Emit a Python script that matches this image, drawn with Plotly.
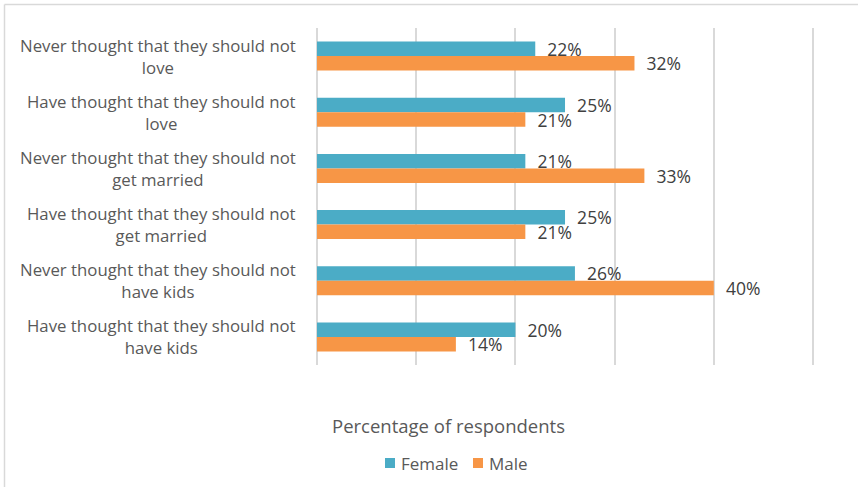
import plotly.graph_objects as go

categories = [
    "Never thought that they should not<br>love",
    "Have thought that they should not<br>love",
    "Never thought that they should not<br>get married",
    "Have thought that they should not<br>get married",
    "Never thought that they should not<br>have kids",
    "Have thought that they should not<br>have kids",
]
female = [22, 25, 21, 25, 26, 20]
male = [32, 21, 33, 21, 40, 14]
series_names = ["Female", "Male"]

FEMALE_COLOR = "#4BACC6"
MALE_COLOR = "#F79646"
FONT = "Open Sans"
TEXT_GREY = "#595959"

# plot-area geometry in pixels (used to place paper-anchored items)
W, H = 858, 487
L, R, T, B = 317, 40, 28, 122
PW, PH = W - L - R, H - T - B


def px_x(px):
    return (px - L) / PW


def px_y(py):
    return (H - B - py) / PH


fig = go.Figure()
for name, vals, color in zip(series_names, [female, male], [FEMALE_COLOR, MALE_COLOR]):
    fig.add_trace(go.Bar(
        y=categories, x=vals, name=name, orientation="h",
        marker=dict(color=color, line=dict(width=0)),
        text=[f"\u00a0\u00a0{v}%" for v in vals],
        textposition="outside", constraintext="none", cliponaxis=False,
        textfont=dict(family=FONT, size=17.5, color="#404040"),
        showlegend=False,
    ))

# category labels, centred line by line
for c in categories:
    fig.add_annotation(
        x=px_x(298), xref="paper", y=c, yref="y",
        text=c, showarrow=False, xanchor="right", yanchor="middle", align="center",
        font=dict(family=FONT, size=16.8, color=TEXT_GREY),
    )

# axis title
fig.add_annotation(
    x=px_x(448), xref="paper", y=px_y(425), yref="paper",
    text="Percentage of respondents", showarrow=False,
    xanchor="center", yanchor="middle",
    font=dict(family=FONT, size=18.5, color=TEXT_GREY),
)

# legend: coloured square + label for each series
legend_y = 463
for name, color, sq_left in zip(series_names, [FEMALE_COLOR, MALE_COLOR], [385, 473]):
    fig.add_shape(type="rect", xref="paper", yref="paper",
                  x0=px_x(sq_left), x1=px_x(sq_left + 10),
                  y0=px_y(legend_y + 5), y1=px_y(legend_y - 5),
                  fillcolor=color, line=dict(width=0))
    fig.add_annotation(
        x=px_x(sq_left + 14), xref="paper", y=px_y(legend_y), yref="paper",
        text=name, showarrow=False, xanchor="left", yanchor="middle",
        font=dict(family=FONT, size=17, color=TEXT_GREY),
    )

# chart-area border (top and left edges)
bx, by = px_x(4.5), px_y(4.5)
fig.add_shape(type="line", xref="paper", yref="paper", x0=bx, x1=bx, y0=px_y(490), y1=by,
              line=dict(color="#d9d9d9", width=1.5))
fig.add_shape(type="line", xref="paper", yref="paper", x0=bx, x1=px_x(870), y0=by, y1=by,
              line=dict(color="#d9d9d9", width=1.5))

fig.update_layout(
    width=W, height=H,
    margin=dict(l=L, r=R, t=T, b=B, pad=0),
    paper_bgcolor="white", plot_bgcolor="white",
    barmode="group", bargap=0.483, bargroupgap=0,
    showlegend=False,
    xaxis=dict(
        range=[0, 50.5], dtick=10, showticklabels=False, showgrid=True,
        gridcolor="#d9d9d9", gridwidth=1.5, zeroline=True, zerolinecolor="#d9d9d9",
        zerolinewidth=1.5, showline=False, fixedrange=True,
    ),
    yaxis=dict(
        categoryorder="array", categoryarray=categories, autorange="reversed",
        showticklabels=False, showgrid=False, zeroline=False, showline=False,
    ),
)

fig.write_html("out.html")
